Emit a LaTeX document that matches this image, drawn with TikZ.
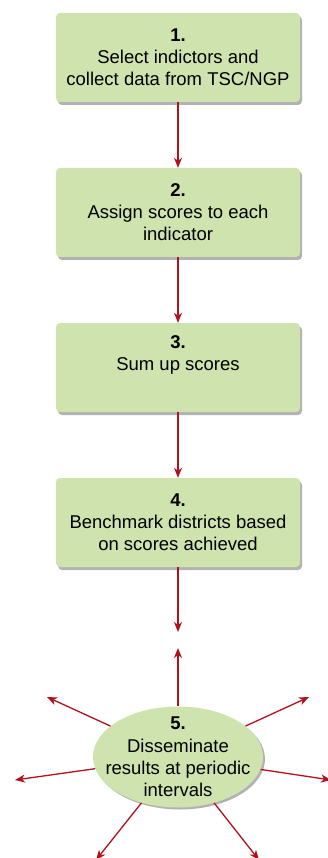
\documentclass[tikz,border=0pt]{standalone}
\usepackage{fontspec}
\setmainfont{Liberation Sans}
\usetikzlibrary{arrows.meta,shapes.geometric,shadows}
\definecolor{boxgreen}{HTML}{CFE3AE}
\definecolor{arrowred}{HTML}{B0111D}
\tikzset{
  stepbox/.style={draw=none,fill=boxgreen,rounded corners=4pt,minimum width=244pt,
    minimum height=89pt,align=center,font=\fontsize{18.5}{22}\selectfont,
    drop shadow={shadow xshift=2pt,shadow yshift=-3pt,fill=black,opacity=0.3}},
  spread/.style={draw=none,fill=boxgreen,ellipse,minimum width=170pt,minimum height=101pt,
    inner xsep=-15pt,inner ysep=-7pt,align=center,font=\fontsize{18.5}{22.3}\selectfont,
    drop shadow={shadow xshift=2pt,shadow yshift=-2pt,fill=black,opacity=0.3}},
  flow/.style={draw=arrowred,line width=1.3pt,-{Stealth[length=10pt,width=8pt,inset=3pt]}}
}
\begin{document}
\begin{tikzpicture}[x=1pt,y=-1pt]
\useasboundingbox (0,0) rectangle (328,858);
\node[stepbox] (s1) at (178,57.5) {\textbf{1.}\\Select indictors and\\collect data from TSC/NGP};
\node[stepbox] (s2) at (178,212.5) {\textbf{2.}\\Assign scores to each\\indicator};
\node[stepbox] (s3) at (178,367.5) {\textbf{3.}\\Sum up scores\\\strut};
\node[stepbox] (s4) at (178,522.5) {\textbf{4.}\\Benchmark districts based\\on scores achieved};
\node[spread] (s5) at (178,757) {\textbf{5.}\\Disseminate\\results at periodic\\intervals};
% loose ends
\coordinate (down) at (178,632);
\coordinate (up) at (178,648);
\coordinate (nw) at (47,697);
\coordinate (ne) at (309,697);
\coordinate (w) at (15,780);
\coordinate (e) at (331,780);
\coordinate (sw) at (96,860);
\coordinate (se) at (259,860);
\draw[flow] (s1) -- (s2);
\draw[flow] (s2) -- (s3);
\draw[flow] (s3) -- (s4);
\draw[flow] (s4) -- (down);
\foreach \t in {up,nw,ne,w,e,sw,se}
  \draw[flow] (s5) -- (\t);
\end{tikzpicture}
\end{document}
